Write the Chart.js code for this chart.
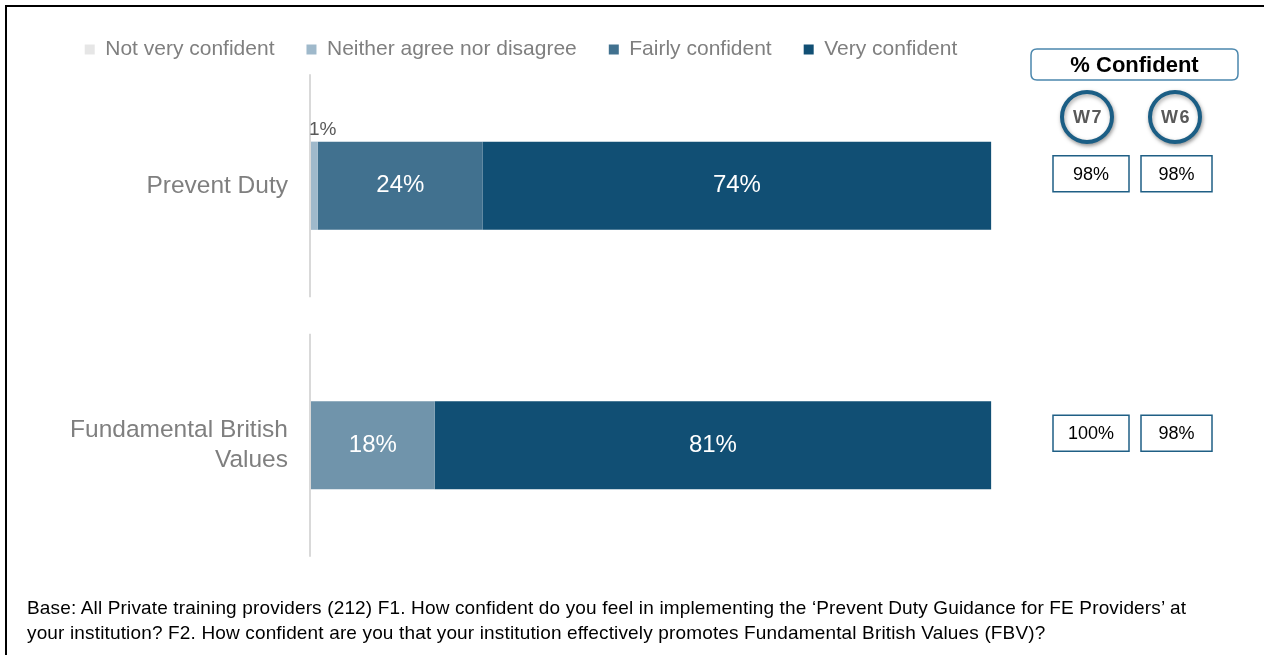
<!DOCTYPE html>
<html>
<head>
<meta charset="utf-8">
<script src="https://cdn.jsdelivr.net/npm/chart.js@4/dist/chart.umd.min.js"></script>
<style>
	html, body { margin: 0; padding: 0; background: #fff; }
	body { width: 1264px; height: 655px; position: relative; overflow: hidden; font-family: "Liberation Sans", Arial, sans-serif; }
	#frame { position: absolute; left: 5px; top: 5px; right: -5px; bottom: -5px; border-left: 2px solid #000; border-top: 2px solid #000; }
	#wrap { position: absolute; left: 0; top: 0; width: 1264px; height: 655px; }
	#note { position: absolute; left: 27px; top: 595px; font-size: 19px; letter-spacing: 0.15px; line-height: 25px; color: #000; white-space: nowrap; }
</style>
</head>
<body>
<div id="frame"></div>
<div id="wrap"><canvas id="myChart" width="1264" height="655"></canvas></div>
<div id="note">Base: All Private training providers (212) F1. How confident do you feel in implementing the ‘Prevent Duty Guidance for FE Providers’ at<br>your institution? F2. How confident are you that your institution effectively promotes Fundamental British Values (FBV)?</div>
<script>
	/* data */
	var categories = [["Prevent Duty"], ["Fundamental British", "Values"]];
	var notVeryConfident = [0, 0];
	var neitherAgree = [1, 0];
	var fairlyConfident = [24, 18];
	var veryConfident = [74, 81];
	var confidentW7 = ["98%", "100%"];
	var confidentW6 = ["98%", "98%"];

	var fairlyColors = ["#41718f", "#7094ab"];
	var grey = "#7f7f7f";
	var font = "'Liberation Sans', Arial, sans-serif";

	// fixed legend height so the plot area starts where it should,
	// and no clipping so the text can hang a little below its box
	var legendFit = {
		id: 'legendFit',
		beforeInit: function(chart){
			var lg = chart.legend;
			var fit = lg.fit, draw = lg.draw;
			lg.fit = function(){
				fit.call(this);
				this.height = 49;
			};
			lg.draw = function(){
				if(this.options.display && this._draw){
					this._draw();
				}else{
					draw.call(this);
				}
			};
		}
	};

	// broken axis line on the left, one piece per category
	var axisLine = {
		id: 'axisLine',
		beforeDatasetsDraw: function(chart){
			var c = chart.ctx, y = chart.scales.y, x = chart.chartArea.left - 1;
			var half = (chart.chartArea.bottom - chart.chartArea.top) / categories.length * 0.43;
			c.save();
			c.strokeStyle = "#d9d9d9";
			c.lineWidth = 2;
			categories.forEach(function(cat, i){
				var mid = y.getPixelForValue(i);
				c.beginPath();
				c.moveTo(x, mid - half);
				c.lineTo(x, mid + half);
				c.stroke();
			});
			c.restore();
		}
	};

	// value labels inside bars, tiny ones go above
	var barLabels = {
		id: 'barLabels',
		afterDatasetsDraw: function(chart){
			var c = chart.ctx;
			c.save();
			chart.data.datasets.forEach(function(ds, di){
				chart.getDatasetMeta(di).data.forEach(function(bar, i){
					var v = ds.data[i];
					if(!v) return;
					var w = Math.abs(bar.x - bar.base);
					if(w < 20){
						c.font = "19px " + font;
						c.fillStyle = "#595959";
						c.textAlign = "left";
						c.textBaseline = "middle";
						c.fillText(v + "%", bar.base - 2, bar.y - bar.height / 2 - 12);
					}else{
						c.font = "24px " + font;
						c.fillStyle = "#ffffff";
						c.textAlign = "center";
						c.textBaseline = "middle";
						c.fillText(v + "%", (bar.x + bar.base) / 2, bar.y);
					}
				});
			});
			c.restore();
		}
	};

	// "% Confident" panel on the right
	function roundRect(c, x, y, w, h, r){
		c.beginPath();
		c.moveTo(x + r, y);
		c.lineTo(x + w - r, y);
		c.quadraticCurveTo(x + w, y, x + w, y + r);
		c.lineTo(x + w, y + h - r);
		c.quadraticCurveTo(x + w, y + h, x + w - r, y + h);
		c.lineTo(x + r, y + h);
		c.quadraticCurveTo(x, y + h, x, y + h - r);
		c.lineTo(x, y + r);
		c.quadraticCurveTo(x, y, x + r, y);
		c.closePath();
	}

	var confidentPanel = {
		id: 'confidentPanel',
		afterDraw: function(chart){
			var c = chart.ctx, y = chart.scales.y;
			c.save();
			// header
			roundRect(c, 1031, 49, 207, 31, 6);
			c.strokeStyle = "#4b87ad";
			c.lineWidth = 1.5;
			c.stroke();
			c.fillStyle = "#000";
			c.font = "bold 22px " + font;
			c.textAlign = "center";
			c.textBaseline = "middle";
			c.fillText("% Confident", 1134.5, 65.5);

			// wave circles
			[["W7", 1087], ["W6", 1175]].forEach(function(w){
				c.save();
				c.shadowColor = "rgba(0,0,0,0.35)";
				c.shadowBlur = 4;
				c.shadowOffsetX = 1;
				c.shadowOffsetY = 2;
				c.beginPath();
				c.arc(w[1], 117, 25, 0, Math.PI * 2);
				c.fillStyle = "#fff";
				c.fill();
				c.lineWidth = 4;
				c.strokeStyle = "#1b5e85";
				c.stroke();
				c.restore();
				c.save();
				c.fillStyle = "#595959";
				c.font = "bold 18px " + font;
				c.letterSpacing = "1.5px";
				c.fillText(w[0], w[1] + 1, 118);
				c.restore();
			});

			// value boxes, one row per category
			c.font = "18px " + font;
			c.lineWidth = 1.5;
			c.strokeStyle = "#1f5f85";
			categories.forEach(function(cat, i){
				var mid = y.getPixelForValue(i) - 12;
				[[1053, 76, confidentW7[i]], [1141, 71, confidentW6[i]]].forEach(function(b){
					c.strokeRect(b[0], mid - 18, b[1], 36);
					c.fillStyle = "#000";
					c.fillText(b[2], b[0] + b[1] / 2, mid + 1);
				});
			});
			c.restore();
		}
	};

	var ctx = document.getElementById('myChart').getContext('2d');

	var plot = new Chart(ctx, {
		type: 'bar',
		data: {
			labels: categories,
			datasets: [
				{ label: "Not very confident", data: notVeryConfident, backgroundColor: "#e6e6e6" },
				{ label: "Neither agree nor disagree", data: neitherAgree, backgroundColor: "#9fb9cb" },
				{ label: "Fairly confident", data: fairlyConfident,
					backgroundColor: function(c){ return fairlyColors[c.dataIndex] || fairlyColors[0]; } },
				{ label: "Very confident", data: veryConfident, backgroundColor: "#114f74" }
			]
		},
		options: {
			indexAxis: 'y',
			responsive: false,
			animation: false,
			categoryPercentage: 1,
			barPercentage: 0.34,
			layout: { padding: { top: 7, left: 44, right: 266, bottom: 80 } },
			plugins: {
				tooltip: { enabled: false },
				legend: {
					position: 'top',
					labels: {
						boxWidth: 10,
						boxHeight: 10,
						padding: 32,
						color: grey,
						font: { size: 21, family: font }
					}
				}
			},
			scales: {
				x: { stacked: true, min: 0, max: 100, display: false },
				y: {
					stacked: true,
					grid: { display: false },
					border: { display: false },
					ticks: { color: grey, padding: 15, font: { size: 24.5, family: font } },
					afterFit: function(scale){ scale.width = 267; }
				}
			}
		},
		plugins: [legendFit, axisLine, barLabels, confidentPanel]
	});
</script>
</body>
</html>
